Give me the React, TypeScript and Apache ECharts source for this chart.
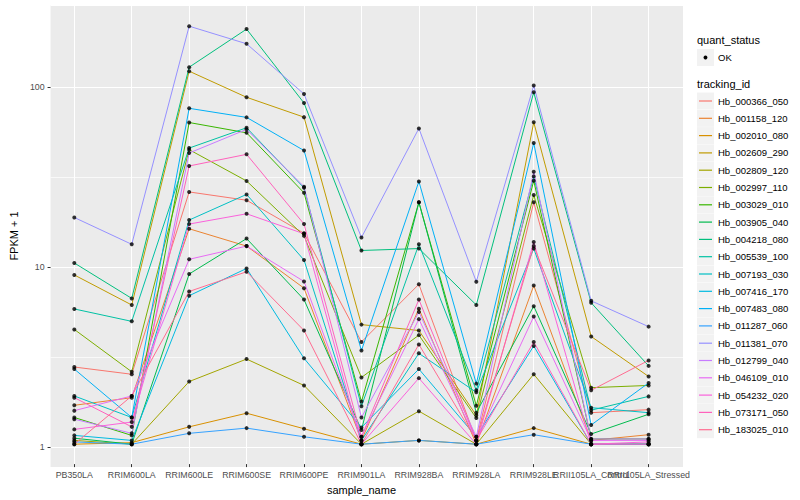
import React, { useEffect, useRef } from "react";
import * as echarts from "echarts";

const categories = [
  "PB350LA", "RRIM600LA", "RRIM600LE", "RRIM600SE", "RRIM600PE", "RRIM901LA",
  "RRIM928BA", "RRIM928LA", "RRIM928LE", "RRII105LA_Control", "RRII105LA_Stressed",
];

const trackingIds = [
  "Hb_000366_050", "Hb_001158_120", "Hb_002010_080", "Hb_002609_290", "Hb_002809_120",
  "Hb_002997_110", "Hb_003029_010", "Hb_003905_040", "Hb_004218_080", "Hb_005539_100",
  "Hb_007193_030", "Hb_007416_170", "Hb_007483_080", "Hb_011287_060", "Hb_011381_070",
  "Hb_012799_040", "Hb_046109_010", "Hb_054232_020", "Hb_073171_050", "Hb_183025_010",
];

const colors = [
  "#F8766D", "#EA8331", "#D89000", "#C09B00", "#A3A500", "#7CAE00", "#39B600", "#00BB4E",
  "#00BF7D", "#00C1A3", "#00BFC4", "#00BAE0", "#00B0F6", "#35A2FF", "#9590FF", "#C77CFF",
  "#E76BF3", "#FA62DB", "#FF62BC", "#FF6C91",
];

// FPKM + 1 per sample (order of categories)
const hb000366 = [2.7, 2.46, 25.7, 23.1, 15.1, 3.73, 7.83, 1.05, 22.5, 1.5, 1.56];
const hb001158 = [1.65, 1.82, 16.0, 12.8, 7.45, 1.05, 5.72, 1.0, 7.7, 1.05, 1.13];
const hb002010 = [1.0, 1.02, 1.25, 1.49, 1.22, 1.0, 1.05, 1.0, 1.23, 1.0, 1.0];
const hb002609 = [8.83, 6.0, 121.6, 86.9, 67.3, 4.66, 4.32, 1.45, 63, 4.0, 2.39];
const hb002809 = [1.05, 1.0, 2.24, 2.99, 2.13, 1.0, 1.53, 1.0, 2.46, 1.0, 1.0];
const hb002997 = [4.38, 2.54, 44.3, 29.6, 14.6, 2.36, 4.07, 1.4, 24.7, 2.07, 2.13];
const hb003029 = [1.41, 1.12, 62.8, 55.0, 25.4, 1.73, 22.5, 1.64, 29.7, 1.07, 1.07];
const hb003905 = [1.08, 1.0, 8.94, 14.1, 6.43, 1.2, 22.5, 1.5, 5.91, 1.14, 1.47];
const hb004218 = [10.3, 6.53, 128, 209, 80.7, 12.1, 12.4, 6.0, 92.7, 6.17, 2.74];
const hb005539 = [5.7, 4.86, 45.2, 58.7, 27.1, 1.63, 13.1, 2.0, 31.4, 1.55, 1.85];
const hb007193 = [1.86, 1.41, 17.9, 24.9, 10.7, 1.05, 3.22, 1.95, 12.4, 1.6, 1.5];
const hb007416 = [1.12, 1.05, 6.76, 9.6, 3.02, 1.24, 2.63, 1.1, 3.54, 1.0, 1.0];
const hb007483 = [2.63, 1.41, 75.4, 67.1, 43.8, 3.34, 29.4, 2.18, 48.2, 1.28, 2.2];
const hb011287 = [1.03, 1.0, 1.15, 1.23, 1.1, 1.0, 1.05, 1.0, 1.13, 1.0, 1.0];
const hb011381 = [18.5, 13.1, 217, 173, 90.6, 14.3, 58.2, 8.1, 101, 6.33, 4.54];
const hb012799 = [1.38, 1.15, 42.4, 57.5, 27.5, 1.41, 5.48, 1.1, 33.3, 1.07, 1.07];
const hb046109 = [1.54, 1.86, 10.8, 12.8, 8.12, 1.1, 5.0, 1.05, 5.17, 1.05, 1.05];
const hb054232 = [1.21, 1.33, 17.0, 19.4, 15.0, 1.0, 2.34, 1.0, 13.5, 1.0, 1.03];
const hb073171 = [1.82, 1.25, 35.9, 41.7, 17.0, 1.1, 6.43, 1.05, 3.73, 1.0, 1.0];
const hb183025 = [1.0, 1.86, 7.14, 9.2, 4.32, 1.0, 3.61, 1.05, 12.8, 2.0, 2.94];

const seriesValues = [
  hb000366, hb001158, hb002010, hb002609, hb002809, hb002997, hb003029, hb003905,
  hb004218, hb005539, hb007193, hb007416, hb007483, hb011287, hb011381, hb012799,
  hb046109, hb054232, hb073171, hb183025,
];

const yTickLabels = ["1", "10", "100"];

const FONT = "Liberation Sans";

export default function App() {
  const ref = useRef<HTMLDivElement>(null);

  useEffect(() => {
    if (!ref.current) return;
    const chart = echarts.init(ref.current, undefined, { renderer: "svg" });

    const yMin = 0.774;
    const yMax = 285;
    // auxiliary log axis shifted by half a decade -> its powers of ten fall on the minor breaks
    const half = Math.sqrt(10);

    const lineSeries = seriesValues.map((vals, i) => ({
      name: trackingIds[i],
      type: "line",
      xAxisIndex: 1,
      yAxisIndex: 1,
      data: vals,
      symbol: "none",
      lineStyle: { color: colors[i], width: 1 },
      itemStyle: { color: colors[i] },
      z: 2,
      silent: true,
    }));

    const pointData: [number, number][] = [];
    seriesValues.forEach((vals) => vals.forEach((v, j) => pointData.push([j, v])));

    const legendItems: any[] = [];
    legendItems.push({
      type: "text", x: 697, y: 40,
      style: { text: "quant_status", fontSize: 11, fontFamily: FONT, fill: "#000", verticalAlign: "middle" },
    });
    legendItems.push({ type: "rect", shape: { x: 697, y: 49, width: 17, height: 17 }, style: { fill: "#F2F2F2" } });
    legendItems.push({ type: "circle", shape: { cx: 705.5, cy: 57.5, r: 1.9 }, style: { fill: "#000" } });
    legendItems.push({
      type: "text", x: 718, y: 57.5,
      style: { text: "OK", fontSize: 9.5, fontFamily: FONT, fill: "#000", verticalAlign: "middle" },
    });
    legendItems.push({
      type: "text", x: 697, y: 84,
      style: { text: "tracking_id", fontSize: 11, fontFamily: FONT, fill: "#000", verticalAlign: "middle" },
    });
    trackingIds.forEach((id, i) => {
      const cy = 101 + i * 17.3;
      legendItems.push({ type: "rect", shape: { x: 697, y: cy - 8.5, width: 17, height: 17 }, style: { fill: "#F2F2F2" } });
      legendItems.push({
        type: "line", shape: { x1: 699, y1: cy, x2: 712, y2: cy },
        style: { stroke: colors[i], lineWidth: 1.2 },
      });
      legendItems.push({
        type: "text", x: 718, y: cy,
        style: { text: id, fontSize: 9.5, fontFamily: FONT, fill: "#000", verticalAlign: "middle" },
      });
    });

    chart.setOption({
      animation: false,
      backgroundColor: "#FFFFFF",
      textStyle: { fontFamily: FONT },
      grid: [
        { left: 40, top: 5, width: 643, height: 462, show: true, backgroundColor: "#EBEBEB", borderWidth: 0 },
        { left: 74.3, top: 5, width: 574.3, height: 462, show: false },
      ],
      xAxis: [
        { type: "value", gridIndex: 0, show: false, min: 0, max: 1 },
        {
          type: "category",
          gridIndex: 1,
          data: categories,
          boundaryGap: false,
          axisLine: { show: false },
          axisTick: { show: true, length: 3, lineStyle: { color: "#333333", width: 1 } },
          axisLabel: { interval: 0, fontSize: 8.8, color: "#4D4D4D", margin: 6, fontFamily: FONT, hideOverlap: false },
          splitLine: { show: true, lineStyle: { color: "#FFFFFF", width: 1 } },
          name: "sample_name",
          nameLocation: "middle",
          nameGap: 14,
          nameTextStyle: { fontSize: 11, color: "#000", fontFamily: FONT },
        },
      ],
      yAxis: [
        {
          type: "log",
          gridIndex: 0,
          logBase: 10,
          min: yMin,
          max: yMax,
          axisLine: { show: false },
          axisTick: { show: true, length: 3, lineStyle: { color: "#333333", width: 1 } },
          axisLabel: {
            fontSize: 8.8, color: "#4D4D4D", margin: 6, fontFamily: FONT,
            showMinLabel: false, showMaxLabel: false,
            formatter: (v: number) => {
              const s = String(Math.round(v));
              return yTickLabels.includes(s) && Math.abs(v - Math.round(v)) < 1e-6 ? s : "";
            },
          },
          splitLine: { show: true, lineStyle: { color: "#FFFFFF", width: 1.1 } },
          name: "FPKM + 1",
          nameLocation: "middle",
          nameGap: 26,
          nameTextStyle: { fontSize: 11, color: "#000", fontFamily: FONT },
        },
        {
          type: "log",
          gridIndex: 1,
          logBase: 10,
          min: yMin,
          max: yMax,
          show: false,
          splitLine: { show: false },
        },
        {
          type: "log",
          gridIndex: 0,
          logBase: 10,
          min: yMin * half,
          max: yMax * half,
          axisLine: { show: false },
          axisTick: { show: false },
          axisLabel: { show: false },
          splitLine: { show: true, lineStyle: { color: "#FFFFFF", width: 0.7 } },
        },
      ],
      series: [
        ...lineSeries,
        {
          name: "OK",
          type: "scatter",
          xAxisIndex: 1,
          yAxisIndex: 1,
          data: pointData,
          symbol: "circle",
          symbolSize: 4,
          itemStyle: { color: "#000000" },
          z: 5,
          silent: true,
        },
      ],
      graphic: legendItems,
    });

    return () => chart.dispose();
  }, []);

  return (
    <div
      ref={ref}
      style={{ position: "fixed", left: 0, top: 0, width: 800, height: 500 }}
    />
  );
}
